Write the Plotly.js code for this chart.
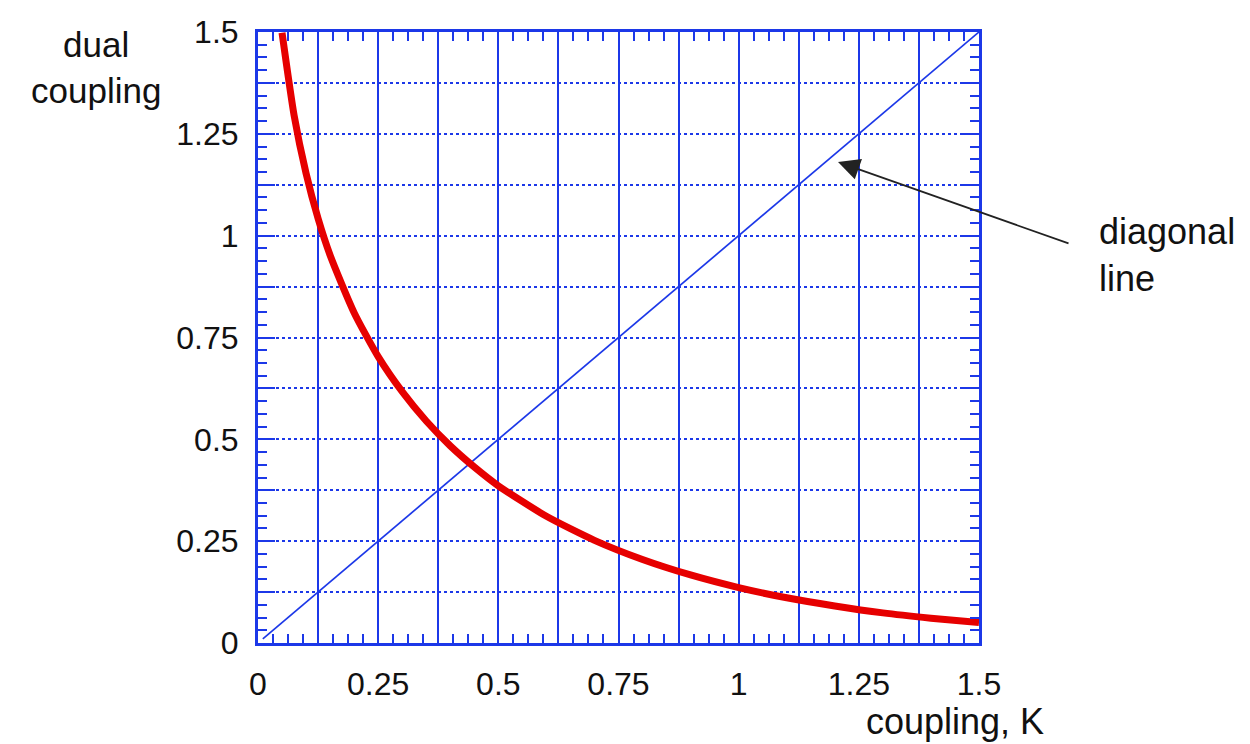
<!DOCTYPE html>
<html>
<head>
<meta charset="utf-8">
<script src="https://cdn.plot.ly/plotly-3.0.1.min.js"></script>
<style>html,body{margin:0;padding:0;background:#fff;}#chart{width:1250px;height:744px;}</style>
</head>
<body>
<div id="chart"></div>
<script>
// Data
const couplingK = [0.05, 0.075, 0.1, 0.125, 0.15, 0.2, 0.25, 0.3, 0.35, 0.4, 0.45, 0.5, 0.6, 0.7, 0.8, 0.9, 1.0, 1.1, 1.2, 1.3, 1.4, 1.5];
const dualCoupling = [1.498, 1.296, 1.153, 1.042, 0.952, 0.811, 0.703, 0.617, 0.545, 0.484, 0.432, 0.386, 0.311, 0.252, 0.205, 0.167, 0.136, 0.111, 0.091, 0.074, 0.061, 0.050];
const diagonalX = [0.01, 1.5];
const diagonalY = [0.01, 1.5];
const tickValues = [0, 0.125, 0.25, 0.375, 0.5, 0.625, 0.75, 0.875, 1, 1.125, 1.25, 1.375, 1.5];
const tickLabels = ['0', '', '0.25', '', '0.5', '', '0.75', '', '1', '', '1.25', '', '1.5'];

const BLUE = 'rgb(28,56,232)';
const FONT = 'Liberation Sans, Arial, Helvetica, sans-serif';

const axisCommon = {
  range: [0, 1.5],
  tickmode: 'array',
  tickvals: tickValues,
  ticktext: tickLabels,
  ticks: 'inside',
  ticklen: 17,
  tickwidth: 2,
  tickcolor: BLUE,
  showline: true,
  linecolor: BLUE,
  linewidth: 3,
  mirror: 'allticks',
  showgrid: true,
  gridcolor: BLUE,
  zeroline: false,
  tickfont: {family: FONT, size: 32, color: '#111'},
  minor: {dtick: 0.03125, tick0: 0, ticks: 'inside', ticklen: 9, tickwidth: 2, tickcolor: BLUE, showgrid: false},
  fixedrange: true
};

const traces = [
  {x: diagonalX, y: diagonalY, mode: 'lines', line: {color: BLUE, width: 1.7}, hoverinfo: 'skip'},
  {x: couplingK, y: dualCoupling, mode: 'lines', line: {color: 'rgb(230,0,0)', width: 7, shape: 'spline', smoothing: 0.6}, hoverinfo: 'skip'}
];

const layout = {
  width: 1250, height: 744,
  margin: {l: 258, r: 271, t: 32, b: 101},
  paper_bgcolor: '#fff', plot_bgcolor: '#fff',
  showlegend: false,
  xaxis: Object.assign({}, axisCommon, {griddash: 'solid', gridwidth: 2, ticklabelstandoff: 11}),
  yaxis: Object.assign({}, axisCommon, {griddash: 'dot', gridwidth: 2, ticklabelstandoff: 10}),
  annotations: [
    {xref: 'paper', yref: 'paper', x: 0.9667, y: -0.129, xanchor: 'center', yanchor: 'middle', text: 'coupling, K', showarrow: false, font: {family: FONT, size: 36, color: '#111'}},
    {xref: 'paper', yref: 'paper', x: -0.224, y: 1.014, xanchor: 'center', yanchor: 'top', text: 'dual<br>coupling', showarrow: false, align: 'center', font: {family: FONT, size: 35, color: '#111'}},
    {xref: 'paper', yref: 'paper', x: 1.1637, y: 0.71, xanchor: 'left', yanchor: 'top', text: 'diagonal<br>line', showarrow: false, align: 'left', font: {family: FONT, size: 36, color: '#111'}},
    {xref: 'x', yref: 'y', x: 1.2067, y: 1.181, ax: 232, ay: 82, text: '', showarrow: true, arrowhead: 2, arrowsize: 2.4, arrowwidth: 1.8, arrowcolor: '#222', standoff: 0}
  ]
};

Plotly.newPlot('chart', traces, layout, {staticPlot: true, displayModeBar: false});
</script>
</body>
</html>
